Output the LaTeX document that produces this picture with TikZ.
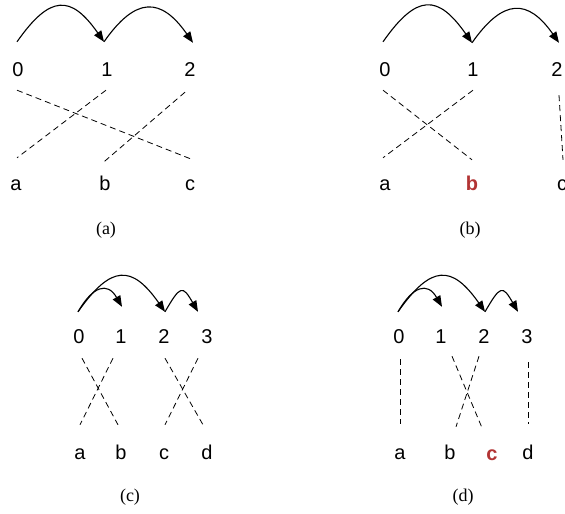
\documentclass[tikz,border=0pt]{standalone}
\usepackage{fontspec}
\setmainfont{Liberation Serif}
\newfontfamily\labfont{Liberation Sans}
\usetikzlibrary{arrows.meta,calc}
\definecolor{pickred}{RGB}{178,52,52}
\tikzset{
    lab/.style={font=\labfont\fontsize{20}{22}\selectfont, inner sep=0pt,
                text height=14pt, text depth=0pt, anchor=base},
    pick/.style={lab, text=pickred, font=\labfont\bfseries\fontsize{20}{22}\selectfont},
    subcap/.style={font=\fontsize{18}{20}\selectfont},
    hop/.style={-{Triangle[length=11pt,width=8.5pt]}, line width=1.1pt},
    link/.style={dash pattern=on 6pt off 4pt, line width=0.8pt},
}

\begin{document}
\begin{tikzpicture}[x=1pt,y=-1pt]
    \useasboundingbox (0,0) rectangle (565,514);

    % (a)
    \node[lab] (a0) at (18,76) {0};
    \node[lab] (a1) at (107,76) {1};
    \node[lab] (a2) at (190,76) {2};
    \node[lab] (aa) at (16,190) {a};
    \node[lab] (ab) at (105,190) {b};
    \node[lab] (ac) at (190,190) {c};
    \node[subcap] (capa) at (106,230) {(a)};
    \draw[hop] ($(a0.north)+(-1,-20)$) to[out=55,in=125,looseness=1.7] ($(a1.north)+(-3,-20)$);
    \draw[hop] ($(a1.north)+(-3,-20)$) to[out=55,in=125,looseness=1.6] ($(a2.north)+(3,-19)$);
    \draw[link] ($(a0.south)+(-1,14)$) -- ($(ac.north)+(3,-16)$);
    \draw[link] ($(a1.south)+(-1,14)$) -- ($(aa.north)+(1,-18)$);
    \draw[link] ($(a2.south)+(-5,16)$) -- ($(ab.north)+(-1,-14)$);

    % (b)
    \node[lab] (b0) at (385,76) {0};
    \node[lab] (b1) at (473,76) {1};
    \node[lab] (b2) at (557,76) {2};
    \node[lab] (ba) at (385,190) {a};
    \node[pick] (bb) at (472,190) {b};
    \node[lab] (bc) at (562,190) {c};
    \node[subcap] (capb) at (470,230) {(b)};
    \draw[hop] ($(b0.north)+(-2,-20)$) to[out=55,in=125,looseness=1.7] ($(b1.north)+(-1,-19)$);
    \draw[hop] ($(b1.north)+(-1,-19)$) to[out=55,in=125,looseness=1.6] ($(b2.north)+(2,-19)$);
    \draw[link] ($(b0.south)+(-2,14)$) -- ($(bb.north)+(0,-16)$);
    \draw[link] ($(b1.south)+(0,14)$) -- ($(ba.north)+(-2,-18)$);
    \draw[link] ($(b2.south)+(2,19)$) -- ($(bc.north)+(1,-16)$);

    % (c)
    \node[lab] (c0) at (79,343) {0};
    \node[lab] (c1) at (121,343) {1};
    \node[lab] (c2) at (164,343) {2};
    \node[lab] (c3) at (207,343) {3};
    \node[lab] (ca) at (80,459) {a};
    \node[lab] (cb) at (121,459) {b};
    \node[lab] (cc) at (164,459) {c};
    \node[lab] (cd) at (207,459) {d};
    \node[subcap] (capc) at (130,497) {(c)};
    \draw[hop] ($(c0.north)+(-1,-17)$) to[out=60,in=120,looseness=1.7] ($(c1.north)+(1,-22)$);
    \draw[hop] ($(c0.north)+(-1,-17)$) to[out=55,in=125,looseness=1.7] ($(c2.north)+(1,-17)$);
    \draw[hop] ($(c2.north)+(1,-17)$) to[out=60,in=120,looseness=2.4] ($(c3.north)+(-9,-17)$);
    \draw[link] ($(c0.south)+(3,15)$) -- ($(cb.north)+(-3,-20)$);
    \draw[link] ($(c1.south)+(-8,15)$) -- ($(ca.north)+(0,-20)$);
    \draw[link] ($(c2.south)+(1,15)$) -- ($(cd.north)+(-4,-20)$);
    \draw[link] ($(c3.south)+(-9,15)$) -- ($(cc.north)+(1,-20)$);

    % (d)
    \node[lab] (d0) at (399,343) {0};
    \node[lab] (d1) at (441,343) {1};
    \node[lab] (d2) at (484,343) {2};
    \node[lab] (d3) at (527,343) {3};
    \node[lab] (da) at (400,459) {a};
    \node[lab] (db) at (450,459) {b};
    \node[pick] (dc) at (492,460) {c};
    \node[lab] (dd) at (528,459) {d};
    \node[subcap] (capd) at (463,497) {(d)};
    \draw[hop] ($(d0.north)+(-1,-17)$) to[out=60,in=120,looseness=1.7] ($(d1.north)+(1,-22)$);
    \draw[hop] ($(d0.north)+(-1,-17)$) to[out=55,in=125,looseness=1.7] ($(d2.north)+(1,-17)$);
    \draw[hop] ($(d2.north)+(1,-17)$) to[out=60,in=120,looseness=2.4] ($(d3.north)+(-9,-17)$);
    \draw[link] ($(d0.south)+(1,16)$) -- ($(da.north)+(0,-21)$);
    \draw[link] ($(d1.south)+(11,13)$) -- ($(dc.north)+(-10,-18)$);
    \draw[link] ($(d2.south)+(-5,13)$) -- ($(db.north)+(6,-18)$);
    \draw[link] ($(d3.south)+(1,19)$) -- ($(dd.north)+(0,-21)$);

\end{tikzpicture}
\end{document}
